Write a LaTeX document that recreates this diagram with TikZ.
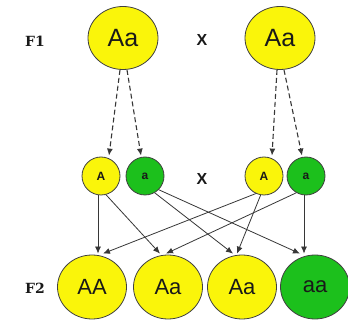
\documentclass[tikz,border=0pt]{standalone}
\usepackage{fontspec}
\setmainfont{Liberation Sans}
\newfontfamily\labelfont{DejaVu Serif}
\usetikzlibrary{shapes.geometric,arrows.meta}
\definecolor{cyel}{RGB}{250,245,10}
\definecolor{cgrn}{RGB}{28,192,28}
\definecolor{cline}{RGB}{55,55,55}
\definecolor{ctext}{RGB}{25,25,25}
\tikzset{
  bigball/.style={ellipse, draw=black!75, line width=0.8pt, minimum width=69pt, minimum height=64pt, inner sep=0pt, text=ctext, font=\fontsize{22}{22}\selectfont},
  topball/.style={bigball, minimum width=70pt, minimum height=63pt, font=\fontsize{25}{25}\selectfont},
  gamete/.style={circle, draw=black!75, line width=0.8pt, minimum size=38pt, inner sep=0pt, text=ctext, font=\bfseries\fontsize{12}{12}\selectfont},
  gen/.style={font=\labelfont\bfseries\fontsize{14}{14}\selectfont, text=ctext},
  cross/.style={font=\bfseries\fontsize{16}{16}\selectfont, text=ctext},
  dasharrow/.style={draw=cline, line width=1.1pt, dash pattern=on 5pt off 3pt, -{Latex[length=7pt,width=6pt]}},
  solarrow/.style={draw=cline, line width=0.8pt, -{Latex[length=7pt,width=6pt]}}
}
\begin{document}
\begin{tikzpicture}[x=1pt,y=-1pt]
\useasboundingbox[fill=white] (0,0) rectangle (348,320);
% F1
\node[gen] (f1) at (35,41) {F1};
\node[topball, fill=cyel] (p1) at (123,38) {Aa};
\node[cross] (x1) at (202,40) {X};
\node[topball, fill=cyel] (p2) at (280,38) {Aa};
% gametes
\node[gamete, fill=cyel] (g1) at (101,176) {A};
\node[gamete, fill=cgrn] (g2) at (145,176) {a};
\node[cross] (x2) at (202,179) {X};
\node[gamete, fill=cyel] (g3) at (264,176) {A};
\node[gamete, fill=cgrn] (g4) at (306,176) {a};
% F2
\node[gen] (f2) at (35,288) {F2};
\node[bigball, fill=cyel] (o1) at (92,287) {AA};
\node[bigball, fill=cyel] (o2) at (168,287) {Aa};
\node[bigball, fill=cyel] (o3) at (242,287) {Aa};
\node[bigball, fill=cgrn] (o4) at (315,287) {aa};
% dashed arrows
\draw[dasharrow] ([xshift=-3pt]p1.south) -- ([xshift=8pt,yshift=1pt]g1.north);
\draw[dasharrow] ([xshift=4pt]p1.south) -- ([xshift=-4pt,yshift=1pt]g2.north);
\draw[dasharrow] ([xshift=-3pt]p2.south) -- ([xshift=8pt,yshift=1pt]g3.north);
\draw[dasharrow] ([xshift=4pt]p2.south) -- ([xshift=-4pt,yshift=1pt]g4.north);
% solid arrows
\draw[solarrow] ([xshift=-3pt]g1.south) -- ([xshift=6pt,yshift=1pt]o1.north);
\draw[solarrow] (g1.-75) -- ([xshift=-8pt,yshift=1pt]o2.north);
\draw[solarrow] (g2.-60) -- ([xshift=-9pt,yshift=1pt]o3.north);
\draw[solarrow] (g2.-45) -- ([xshift=-15pt,yshift=1pt]o4.north);
\draw[solarrow] (g3.-115) -- ([xshift=11pt,yshift=1pt]o1.north);
\draw[solarrow] (g3.-100) -- ([xshift=-5pt,yshift=1pt]o3.north);
\draw[solarrow] (g4.-120) -- ([xshift=-2pt,yshift=1pt]o2.north);
\draw[solarrow] ([xshift=-2pt]g4.south) -- ([xshift=-11pt,yshift=1pt]o4.north);
\end{tikzpicture}
\end{document}
